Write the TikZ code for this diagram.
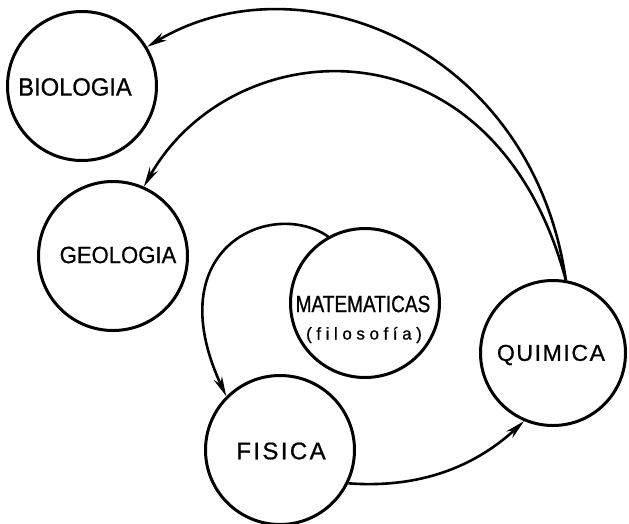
\documentclass[tikz,border=0pt]{standalone}
\usepackage{fontspec}
\setmainfont{Liberation Sans}
\newfontfamily\lettering[FakeBold=0.8]{Liberation Sans}
\usetikzlibrary{arrows.meta}

\begin{document}
\begin{tikzpicture}[x=1pt,y=-1pt,
  subject/.style={circle, draw, line width=3pt, minimum size=149pt, inner sep=0pt},
  flow/.style={line width=2.6pt, -{Stealth[length=20pt,width=9pt]}},
  tag/.style={inner sep=0pt, anchor=center}]
\useasboundingbox (0,0) rectangle (629,523);

% the five disciplines
\node[subject] (bio) at (82,86) {};
\node[subject] (geo) at (113,256) {};
\node[subject] (mat) at (365,303) {};
\node[subject] (fis) at (280,450) {};
\node[subject, minimum size=145pt] (qui) at (553,353) {};

% their names
\node[tag, font=\lettering\fontsize{25}{26}\selectfont\addfontfeatures{FakeStretch=0.95}] (biot) at (75,87) {BIOLOGIA};
\node[tag, font=\lettering\fontsize{23.5}{25}\selectfont\addfontfeatures{FakeStretch=0.94}] (geot) at (118,255) {GEOLOGIA};
\node[tag, font=\lettering\fontsize{23.5}{25}\selectfont\addfontfeatures{FakeStretch=0.81}] (matt) at (363,304) {MATEMATICAS};
\node[tag, font=\lettering\fontsize{17}{18}\selectfont\addfontfeatures{LetterSpace=27}] (filt) at (364,335) {(filosofía)};
\node[tag, font=\lettering\fontsize{24}{25}\selectfont\addfontfeatures{LetterSpace=10}] (fist) at (281,451) {FISICA};
\node[tag, font=\lettering\fontsize{23}{24}\selectfont\addfontfeatures{LetterSpace=7}] (quit) at (551,355) {QUIMICA};

% the flows between them
\draw[flow] (qui.80) .. controls (532,46) and (300,-45) .. (bio.31);
\draw[flow] (qui.80) .. controls (494,12) and (232,30) .. (geo.66);
\draw[flow] (mat.119) .. controls (272,198) and (157,247) .. (fis.135);
\draw[flow] (fis.-26) .. controls (411,488) and (469,472) .. (qui.247);
\end{tikzpicture}
\end{document}
